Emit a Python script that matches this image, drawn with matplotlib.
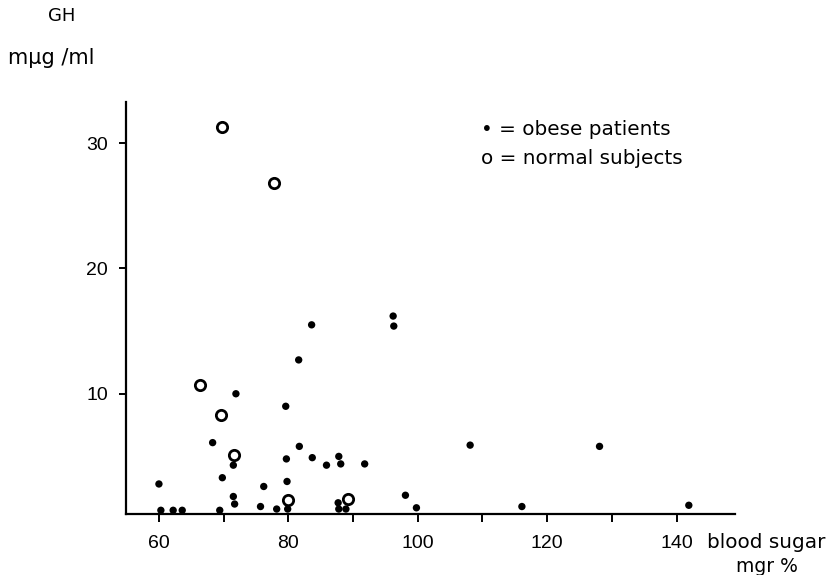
import matplotlib
matplotlib.use('Agg')
import matplotlib.pyplot as plt

# obese patients (filled dots): blood sugar (mgr %), GH (mμg/ml)
obese_sugar = [60, 60.3, 62.2, 63.6, 68.3, 69.4, 69.8, 71.5, 71.5, 71.7, 71.9,
               75.7, 76.2, 78.2, 79.6, 79.7, 79.8, 79.9, 81.6, 81.7, 83.6, 83.7,
               85.9, 87.7, 87.8, 87.8, 88.1, 88.9, 91.8, 96.2, 96.3, 98.1,
               99.8, 108.1, 116.1, 128.1, 141.9]
obese_gh = [2.8, 0.7, 0.7, 0.7, 6.1, 0.7, 3.3, 4.3, 1.8, 1.2, 10.0,
            1.0, 2.6, 0.8, 9.0, 4.8, 3.0, 0.8, 12.7, 5.8, 15.5, 4.9,
            4.3, 1.3, 5.0, 0.8, 4.4, 0.8, 4.4, 16.2, 15.4, 1.9,
            0.9, 5.9, 1.0, 5.8, 1.1]

# normal subjects (open circles)
normal_sugar = [66.4, 69.6, 69.7, 71.6, 77.8, 79.9, 89.2]
normal_gh = [10.7, 8.3, 31.3, 5.1, 26.8, 1.5, 1.6]

x_ticks = [60, 70, 80, 90, 100, 110, 120, 130, 140]
x_labels = ['60', '', '80', '', '100', '', '120', '', '140']
y_ticks = [10, 20, 30]
y_labels = ['10', '20', '30']

# numbers in a Helvetica-like face, words in DejaVu
plt.rcParams['font.family'] = ['Liberation Sans', 'DejaVu Sans']
word_font = ['DejaVu Sans']

fig = plt.figure(figsize=(8.34, 5.75), dpi=100)
ax = fig.add_axes([0.151, 0.106, 0.73, 0.717])

ax.scatter(obese_sugar, obese_gh, s=28, c='black', edgecolors='none', zorder=3)
ax.scatter(normal_sugar, normal_gh, s=55, facecolors='white', edgecolors='black',
           linewidths=2, zorder=4)

ax.set_xlim(54.9, 149)
ax.set_ylim(0.4, 33.3)

for side in ['top', 'right']:
    ax.spines[side].set_visible(False)
for side in ['left', 'bottom']:
    ax.spines[side].set_linewidth(1.6)

ax.set_xticks(x_ticks, labels=x_labels)
ax.set_yticks(y_ticks, labels=y_labels)
ax.tick_params(axis='x', direction='out', length=6, width=1.4, pad=9, labelsize=14)
ax.tick_params(axis='y', direction='out', length=5, width=1.4, pad=8, labelsize=14)

fig.text(62 / 834, 1 - 16 / 575, 'GH', ha='center', va='center', fontsize=13,
         family=word_font)
fig.text(8 / 834, 1 - 58 / 575, 'mμg /ml', ha='left', va='center', fontsize=15,
         family=word_font)
fig.text(707 / 834, 1 - 543 / 575, 'blood sugar', ha='left', va='center',
         fontsize=14.4, family=word_font)
fig.text(767 / 834, 1 - 567 / 575, 'mgr %', ha='center', va='center',
         fontsize=13.5, family=word_font)

ax.text(0.583, 0.933, '• = obese patients', transform=ax.transAxes,
        ha='left', va='center', fontsize=14.4, family=word_font)
ax.text(0.583, 0.862, 'o = normal subjects', transform=ax.transAxes,
        ha='left', va='center', fontsize=14.4, family=word_font)

plt.savefig('out.png', dpi=100)
plt.close(fig)
